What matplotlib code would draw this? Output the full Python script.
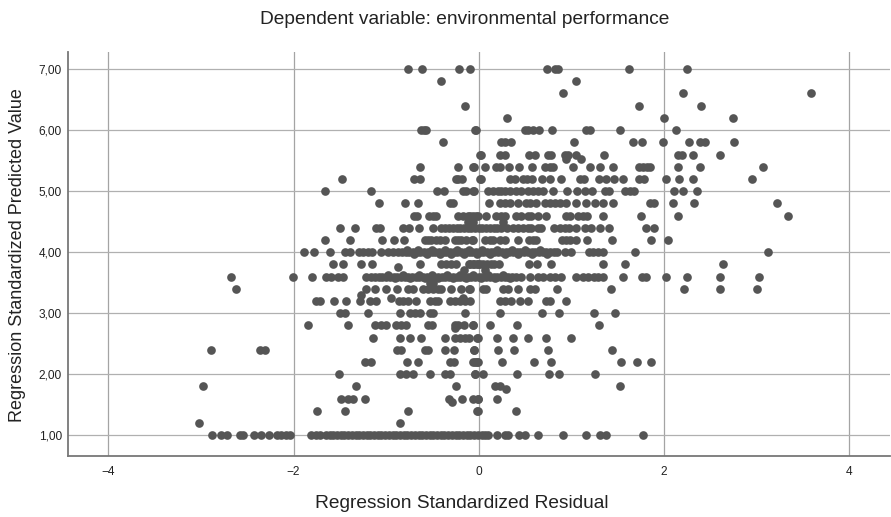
import matplotlib
matplotlib.use("Agg")
import matplotlib.pyplot as plt

plt.rcParams['font.family'] = ['Liberation Sans', 'DejaVu Sans']

title = "Dependent variable: environmental performance"
xlabel = "Regression Standardized Residual"
ylabel = "Regression Standardized Predicted Value"
xticks = [-4, -2, 0, 2, 4]
xticklabels = ["\u22124", "\u22122", "0", "2", "4"]
yticks = [1, 2, 3, 4, 5, 6, 7]
yticklabels = ["1,00", "2,00", "3,00", "4,00", "5,00", "6,00", "7,00"]

row_700 = [-0.767, -0.612, -0.212, -0.094, 0.742, 0.82, 0.857, 1.623, 2.243]
row_680 = [-0.403, 1.051]
row_660 = [0.907, 2.203, 3.585]
row_640 = [-0.144, 1.731, 2.401]
row_620 = [0.302, 2.005, 2.75]
row_600 = [-0.62, -0.594, -0.565, -0.036, -0.03, 0.497, 0.533, 0.587, 0.652, 0.788, 1.163, 1.206, 1.53, 2.131]
row_580 = [-0.389, 0.245, 0.281, 0.353, 1.026, 1.667, 1.764, 1.99, 2.271, 2.394, 2.441, 2.757]
row_560 = [0.018, 0.025, 0.227, 0.281, 0.544, 0.605, 0.749, 0.785, 0.929, 0.965, 1.055, 1.35, 2.153, 2.189, 2.311, 2.603]
row_552 = [0.94, 1.10]
row_540 = [-0.63, -0.223, -0.054, -0.058, 0.072, 0.19, 0.234, 0.328, 0.436, 0.572, 0.713, 0.767, 0.803, 1.019, 1.199,
           1.307, 1.447, 1.728, 1.775, 1.821, 1.847, 2.153, 2.394, 3.074]
row_520 = [-1.472, -0.702, -0.637, -0.248, -0.223, -0.176, 0.01, 0.025, 0.342, 0.389, 0.479, 0.522, 0.58, 0.68, 0.767,
           0.893, 1.098, 1.134, 1.3, 1.372, 1.458, 1.562, 1.728, 1.782, 2.027, 2.163, 2.311, 2.952]
row_500 = [-1.656, -1.159, -0.446, -0.374, -0.169, -0.133, -0.054, -0.058, 0.101, 0.155, 0.209, 0.245, 0.281, 0.335,
           0.407, 0.461, 0.533, 0.587, 0.641, 0.695, 0.803, 0.95, 1.062, 1.145, 1.228, 1.361, 1.408, 1.58, 1.631, 1.674,
           2.113, 2.207, 2.354]
row_480 = [-1.076, -0.792, -0.655, -0.306, -0.277, 0.112, 0.227, 0.281, 0.335, 0.428, 0.515, 0.551, 0.616, 0.713, 0.767,
           0.821, 0.875, 0.947, 1.048, 1.156, 1.253, 1.343, 1.454, 1.847, 1.89, 2.099, 2.325, 3.222]
row_460 = [-0.702, -0.666, -0.536, -0.493, -0.457, -0.223, -0.169, -0.115, -0.061, -0.007, -0.097, -0.025, 0.076, 0.19,
           0.245, 0.281, 0.403, 0.457, 0.533, 0.569, 0.641, 0.724, 0.94, 0.983, 1.073, 1.127, 1.17, 1.339, 1.753, 2.149,
           3.344]
row_450 = [-0.115, -0.06, 0.26]
row_440 = [-1.494, -1.332, -1.105, -1.069, -0.817, -0.752, -0.644, -0.493, -0.403, -0.365, -0.32, -0.28, -0.24, -0.2,
           -0.16, -0.12, -0.08, -0.04, 0.0, 0.04, 0.08, 0.12, 0.16, 0.2, 0.24, 0.3, 0.371, 0.425, 0.479, 0.533, 0.569,
           0.641, 0.677, 0.81, 0.875, 0.929, 0.976, 1.055, 1.152, 1.217, 1.307, 1.404, 1.803, 1.893]
row_420 = [-1.656, -1.386, -1.04, -0.911, -0.806, -0.583, -0.547, -0.511, -0.457, -0.421, -0.367, -0.259, -0.223, -0.187,
           -0.133, -0.061, -0.068, 0.065, 0.119, 0.155, 0.227, 0.281, 0.425, 0.544, 0.587, 0.623, 0.904, 0.947, 0.983,
           1.048, 1.17, 1.443, 1.865, 2.045]
row_400 = [-1.886, -1.775, -1.602, -1.447, -1.393, -1.296, -1.249, -1.195, -1.148, -1.051, -0.979, -0.925, -0.87, -0.83,
           -0.79, -0.75, -0.71, -0.67, -0.63, -0.59, -0.55, -0.51, -0.47, -0.43, -0.39, -0.35, -0.31, -0.27, -0.23,
           -0.19, -0.15, -0.11, -0.07, -0.03, 0.01, 0.05, 0.09, 0.13, 0.17, 0.21, 0.25, 0.29, 0.33, 0.37, 0.41, 0.45,
           0.49, 0.53, 0.57, 0.61, 0.65, 0.69, 0.73, 0.77, 0.81, 0.85, 0.929, 0.994, 1.19, 1.231, 1.285, 1.343, 1.688,
           3.125]
row_380 = [-1.573, -1.465, -1.274, -1.148, -0.63, -0.403, -0.349, -0.295, -0.241, -0.104, -0.061, -0.007, -0.09, -0.05,
           -0.02, 0.01, 0.05, 0.09, 0.13, 0.17, 0.22, 0.544, 0.634, 0.785, 1.343, 1.584, 2.639]
row_375 = [-0.875]
row_370 = [-0.158, 0.065]
row_360 = [-2.675, -2.005, -1.803, -1.645, -1.591, -1.519, -1.465, -1.213, -1.16, -1.12, -1.08, -1.04, -1.0, -0.96, -0.92,
           -0.88, -0.84, -0.8, -0.76, -0.72, -0.68, -0.64, -0.6, -0.56, -0.52, -0.48, -0.44, -0.4, -0.36, -0.32, -0.28,
           -0.24, -0.2, -0.16, -0.12, -0.08, -0.04, 0.0, 0.04, 0.08, 0.12, 0.16, 0.2, 0.24, 0.28, 0.32, 0.36, 0.4, 0.46,
           0.55, 0.641, 0.695, 0.767, 0.821, 0.893, 1.048, 1.127, 1.181, 1.242, 1.289, 1.343, 1.555, 1.767, 1.811, 2.027,
           2.25, 2.6, 3.028]
row_350 = [-0.511, -0.49, -0.53]
row_340 = [-2.621, -1.213, -1.123, -0.997, -0.882, -0.763, -0.709, -0.601, -0.547, -0.493, -0.439, -0.403, -0.295, -0.187,
           -0.104, -0.097, 0.047, 0.083, 0.263, 0.317, 0.421, 0.551, 0.605, 0.85, 1.425, 2.214, 2.6, 2.999]
row_330 = [-1.267]
row_320 = [-1.76, -1.717, -1.559, -1.436, -1.285, -1.177, -1.105, -0.86, -0.817, -0.763, -0.673, -0.529, -0.475, -0.439,
           -0.313, -0.259, -0.205, -0.151, -0.09, 0.227, 0.281, 0.353, 0.443, 0.533, 0.731, 0.774, 0.943]
row_325 = [-0.943, -0.17]
row_300 = [-1.501, -1.447, -1.195, -0.853, -0.745, -0.691, -0.637, -0.529, -0.493, -0.151, 0.227, 0.684, 0.864, 1.249, 1.472]
row_280 = [-1.843, -1.411, -1.123, -1.051, -1.004, -0.889, -0.835, -0.781, -0.547, -0.5, -0.259, -0.223, -0.162, -0.061,
           -0.061, 0.122, 0.418, 1.296]
row_275 = [-0.259]
row_260 = [-1.141, -0.853, -0.745, -0.626, -0.367, -0.252, -0.205, -0.151, -0.104, -0.018, -0.007, 0.202, 0.374, 0.536,
           0.727, 0.997]
row_240 = [-2.887, -2.365, -2.311, -0.882, -0.835, -0.583, -0.547, -0.36, -0.266, -0.05, -0.047, 0.209, 0.381, 0.745, 1.436]
row_220 = [-1.231, -1.159, -0.778, -0.655, -0.313, -0.27, -0.043, -0.007, -0.061, -0.018, 0.248, 0.597, 0.785, 1.537,
           1.706, 1.865]
row_200 = [-1.512, -0.853, -0.781, -0.709, -0.526, -0.367, -0.313, -0.043, -0.04, 0.047, 0.41, 0.76, 0.864, 1.26]
row_180 = [-2.977, -1.328, -0.245, 0.173, 0.234, 1.523]
row_176 = [0.295]
row_160 = [-1.483, -1.411, -1.357, -1.224, -0.32, -0.18, -0.061, -0.007, -0.011, 0.198]
row_155 = [-0.288]
row_140 = [-1.746, -1.443, -0.76, -0.018, -0.011, 0.407]
row_120 = [-3.02, -0.846]
row_100 = [-2.876, -2.779, -2.714, -2.581, -2.545, -2.426, -2.354, -2.268, -2.178, -2.131, -2.077, -2.041, -1.807, -1.753,
           -1.71, -1.645, -1.61, -1.57, -1.53, -1.49, -1.45, -1.41, -1.37, -1.33, -1.29, -1.25, -1.21, -1.17, -1.13,
           -1.09, -1.05, -1.01, -0.97, -0.93, -0.89, -0.85, -0.81, -0.77, -0.73, -0.69, -0.65, -0.61, -0.57, -0.53,
           -0.49, -0.45, -0.41, -0.37, -0.33, -0.29, -0.25, -0.21, -0.17, -0.13, -0.09, -0.05, -0.01, 0.03, 0.07, 0.1,
           0.198, 0.281, 0.317, 0.432, 0.504, 0.641, 0.907, 1.159, 1.307, 1.379, 1.778]

# slightly offset points that thicken the two densest rows
row_403 = [-0.78, -0.66, -0.5, -0.36, -0.24, -0.1, 0.04, 0.2, 0.36, 0.5, 0.66]
row_397 = [-0.7, -0.56, -0.42, -0.3, -0.16, -0.02, 0.12, 0.28, 0.42, 0.58, 0.74]
row_363 = [-0.98, -0.82, -0.64, -0.5, -0.34, -0.2, -0.06, 0.1, 0.26]
row_357 = [-0.9, -0.74, -0.58, -0.44, -0.28, -0.14, 0.02, 0.18, 0.34]

rows = {7.0: row_700, 6.8: row_680, 6.6: row_660, 6.4: row_640, 6.2: row_620, 6.0: row_600, 5.8: row_580, 5.6: row_560,
        5.52: row_552, 5.4: row_540, 5.2: row_520, 5.0: row_500, 4.8: row_480, 4.6: row_460, 4.5: row_450, 4.4: row_440,
        4.2: row_420, 4.03: row_403, 4.0: row_400, 3.97: row_397, 3.8: row_380, 3.75: row_375, 3.7: row_370,
        3.63: row_363, 3.6: row_360, 3.57: row_357, 3.5: row_350, 3.4: row_340,
        3.3: row_330, 3.25: row_325, 3.2: row_320, 3.0: row_300, 2.8: row_280, 2.75: row_275, 2.6: row_260, 2.4: row_240,
        2.2: row_220, 2.0: row_200, 1.8: row_180, 1.76: row_176, 1.6: row_160, 1.55: row_155, 1.4: row_140, 1.2: row_120,
        1.0: row_100}

fig = plt.figure(figsize=(8.91, 5.17), dpi=100)
ax = fig.add_axes([67.5 / 891, 1 - 456 / 517, (890 - 67.5) / 891, (456 - 52) / 517])
ax.set_xlim(-4.44, 4.44)
ax.set_ylim(0.66, 7.28)

for v in xticks:
    ax.axvline(v, color='#a4a4a4', lw=0.9, zorder=1)
for v in yticks:
    ax.axhline(v, color='#b0b0b0', lw=0.9, zorder=1)

for y, xs in rows.items():
    ax.scatter(xs, [y] * len(xs), s=39, color='#555555', linewidths=0, zorder=3, clip_on=False)

ax.spines['top'].set_visible(False)
ax.spines['right'].set_visible(False)
ax.spines['left'].set_color('#777777')
ax.spines['bottom'].set_color('#777777')
ax.spines['left'].set_linewidth(1.3)
ax.spines['bottom'].set_linewidth(1.3)

ax.set_xticks(xticks)
ax.set_xticklabels(xticklabels, fontsize=8.6, color='#222222')
ax.set_yticks(yticks)
ax.set_yticklabels(yticklabels, fontsize=8.6, color='#222222')
ax.tick_params(axis='x', length=0, pad=7)
ax.tick_params(axis='y', length=0, pad=4)

fig.text(464.5 / 891, 1 - 19 / 517, title, ha='center', va='center', fontsize=13.8, color='#222222')
fig.text(462 / 891, 1 - 503 / 517, xlabel, ha='center', va='center', fontsize=13.8, color='#222222')
fig.text(17.5 / 891, 1 - 255 / 517, ylabel, ha='center', va='center', rotation=90, fontsize=13, color='#222222')

fig.savefig('out.png', dpi=100)
